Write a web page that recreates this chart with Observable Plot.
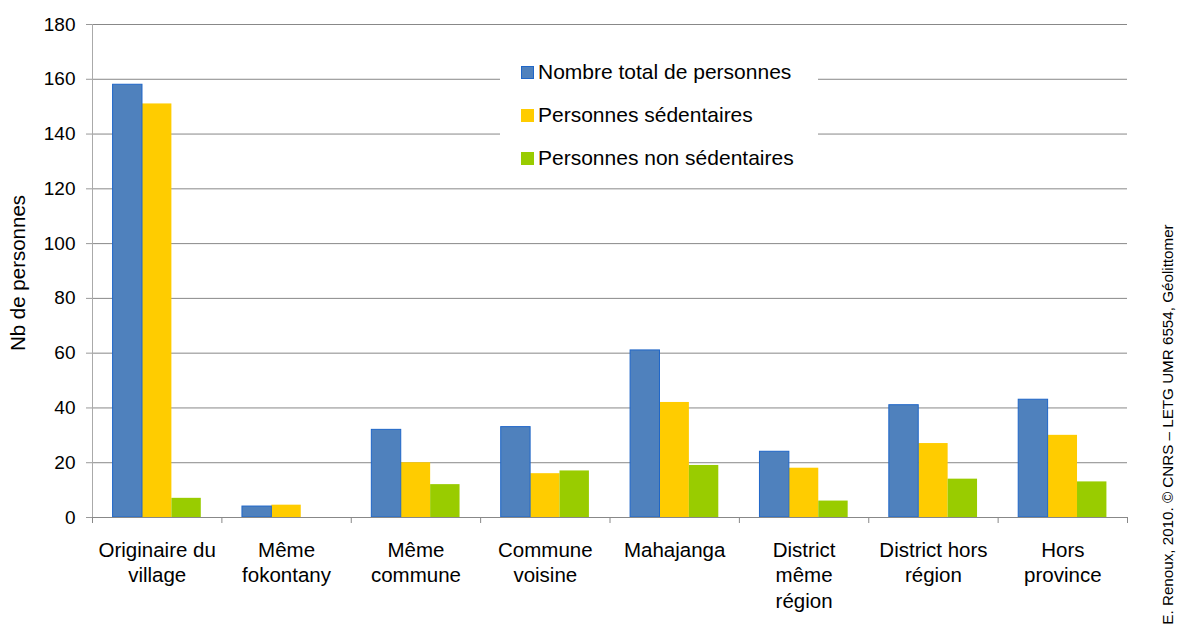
<!DOCTYPE html>
<html>
<head>
<meta charset="utf-8">
<script src="https://cdn.jsdelivr.net/npm/d3@7"></script>
<script src="https://cdn.jsdelivr.net/npm/@observablehq/plot@0.6"></script>
<style>
  body { margin: 0; background: #fff; font-family: "Liberation Sans", Arial, sans-serif; }
  #wrap { position: relative; width: 1178px; height: 635px; }
  #legend { position: absolute; left: 500px; top: 50px; width: 318px; height: 130px; background: #fff; }
  .item { position: absolute; left: 21px; height: 24px; display: flex; align-items: center; font-size: 21px; color: #000; white-space: nowrap; }
  .sw { width: 13px; height: 13px; margin-right: 4px; box-sizing: border-box; }
</style>
</head>
<body>
<div id="wrap"><div id="chart"></div><div id="legend"></div></div>
<script>
// ---- data ----
const categories = [
  "Originaire du\nvillage", "Même\nfokontany", "Même\ncommune", "Commune\nvoisine",
  "Mahajanga", "District\nmême\nrégion", "District hors\nrégion", "Hors\nprovince"
];
const seriesNames = ["Nombre total de personnes", "Personnes sédentaires", "Personnes non sédentaires"];
const totalPersonnes = [158, 4, 32, 33, 61, 24, 41, 43];
const sedentaires = [151, 4.5, 20, 16, 42, 18, 27, 30];
const nonSedentaires = [7, 0, 12, 17, 19, 6, 14, 13];
const colors = ["#4f81bd", "#ffcc00", "#99cc00"];
const yTicks = [0, 20, 40, 60, 80, 100, 120, 140, 160, 180];
const yLabel = "Nb de personnes";
const credit = "E. Renoux, 2010. © CNRS – LETG UMR 6554, Géolittomer";

const seriesValues = [totalPersonnes, sedentaires, nonSedentaires];
const nS = seriesNames.length;
const slots = nS + 1.4; // 0.7 slot of padding each side
const rows = categories.flatMap((c, i) => seriesNames.map((s, j) => ({
  i, j, category: c, series: s, value: seriesValues[j][i]
}))).filter(d => d.value > 0);
const boundaries = d3.range(categories.length + 1);
const centers = d3.range(categories.length).map(i => i + 0.5);

const x1 = d => d.i + (0.7 + d.j) / slots;
const x2 = d => d.i + (1.7 + d.j) / slots;

const chart = Plot.plot({
  width: 1178,
  height: 635,
  marginLeft: 92,
  marginRight: 51,
  marginTop: 24,
  marginBottom: 118,
  style: { fontFamily: '"Liberation Sans", Arial, sans-serif', fontSize: "19px", color: "#000", background: "#fff" },
  x: { domain: [0, categories.length] },
  y: { domain: [0, 180] },
  color: { domain: seriesNames, range: colors },
  marks: [
    Plot.gridY(yTicks, { stroke: "#888", strokeOpacity: 1 }),
    Plot.axisY(yTicks, { tickSize: 6, tickPadding: 11, fontSize: 19, stroke: "#999", label: null }),
    Plot.ruleX([0], { stroke: "#aaa" }),
    Plot.rectY(rows, { x1, x2, y: "value", fill: "series" }),
    Plot.rectY(rows.filter(d => d.j === 0), { x1, x2, y: "value", fill: "none", stroke: "#1f66c8", strokeWidth: 1 }),
    Plot.ruleY([0], { stroke: "#888" }),
    Plot.axisX(boundaries, { tickSize: 6, tickFormat: () => "", stroke: "#888", label: null }),
    Plot.axisX(centers, { tickSize: 0, tickPadding: 21, fontSize: 20.5, lineHeight: 1.25,
      tickFormat: v => categories[Math.floor(v)], label: null }),
    Plot.text([yLabel], { frameAnchor: "left", dx: -74, dy: 2, rotate: -90, fontSize: 20.5, fill: "#000",
      textAnchor: "middle", lineAnchor: "middle" }),
    Plot.text([credit], { frameAnchor: "bottom-right", dx: 41, dy: -93, rotate: -90, fontSize: 15.2, fill: "#000",
      textAnchor: "middle", lineAnchor: "middle" })
  ]
});
document.getElementById("chart").appendChild(chart);

const legend = document.getElementById("legend");
seriesNames.forEach((s, j) => {
  const item = document.createElement("div");
  item.className = "item";
  item.style.top = (10 + j * 43) + "px";
  const sw = document.createElement("div");
  sw.className = "sw";
  sw.style.background = colors[j];
  if (j === 0) sw.style.border = "1px solid #1f66c8";
  item.appendChild(sw);
  item.appendChild(document.createTextNode(s));
  legend.appendChild(item);
});
</script>
</body>
</html>
